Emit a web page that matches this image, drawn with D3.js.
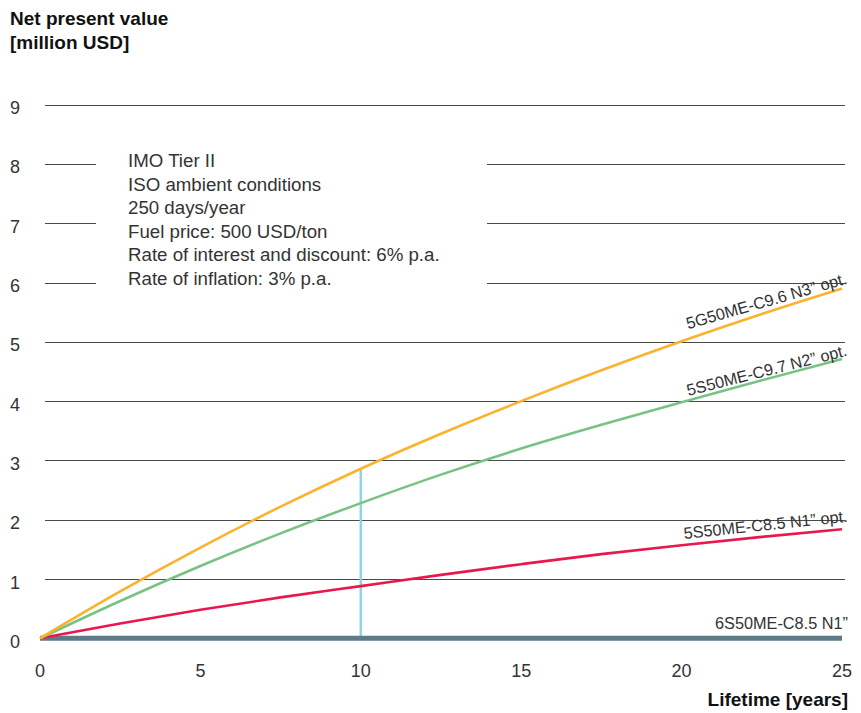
<!DOCTYPE html>
<html>
<head>
<meta charset="utf-8">
<script src="https://cdn.jsdelivr.net/npm/d3@7/dist/d3.min.js"></script>
<style>
  html, body { margin: 0; padding: 0; background: #fff; }
  svg { display: block; font-family: "Liberation Sans", Arial, Helvetica, sans-serif; }
</style>
</head>
<body>
<svg id="chart" width="861" height="713"></svg>
<script>
// ---- data ----
const years = [0, 2.5, 5, 7.5, 10, 12.5, 15, 17.5, 20, 22.5, 25];
const npvN3opt = [0, 0.79, 1.53, 2.22, 2.86, 3.45, 4.00, 4.52, 5.01, 5.47, 5.90];
const npvN2opt = [0, 0.63, 1.22, 1.77, 2.28, 2.76, 3.20, 3.60, 3.98, 4.35, 4.71];
const npvN1opt = [0, 0.25, 0.48, 0.69, 0.88, 1.07, 1.25, 1.42, 1.57, 1.71, 1.84];
const npvBase  = [0, 0, 0, 0, 0, 0, 0, 0, 0, 0, 0];
const seriesNames = ["5G50ME-C9.6 N3\u201D opt.", "5S50ME-C9.7 N2\u201D opt.", "5S50ME-C8.5 N1\u201D opt.", "6S50ME-C8.5 N1\u201D"];
const xTicks = [0, 5, 10, 15, 20, 25];
const yTicks = [0, 1, 2, 3, 4, 5, 6, 7, 8, 9];
const markerYear = 10;
const noteLines = ["IMO Tier II", "ISO ambient conditions", "250 days/year", "Fuel price: 500 USD/ton", "Rate of interest and discount: 6% p.a.", "Rate of inflation: 3% p.a."];
const yTitle = ["Net present value", "[million USD]"];
const xTitle = "Lifetime [years]";

// ---- scales ----
const svg = d3.select("#chart");
const x = d3.scaleLinear().domain([0, 25]).range([40, 842]);
const y = d3.scaleLinear().domain([0, 9]).range([638.3, 104.6]);
const txt = "#333";

// gridlines (broken for note box on 6,7,8)
const gridL = 45, gridR = 845;
yTicks.filter(v => v > 0).forEach(v => {
  const segs = (v >= 6 && v <= 8) ? [[gridL, 96], [487, gridR]] : [[gridL, gridR]];
  segs.forEach(s => {
    svg.append("line")
      .attr("x1", s[0]).attr("x2", s[1])
      .attr("y1", Math.round(y(v)) + 0.5).attr("y2", Math.round(y(v)) + 0.5)
      .attr("stroke", "#4a4a4a").attr("stroke-width", 1);
  });
});

// y tick labels
svg.append("g").selectAll("text").data(yTicks).join("text")
  .attr("x", 15).attr("y", d => y(d) + 9.5)
  .attr("text-anchor", "middle").attr("font-size", 18).attr("fill", txt)
  .text(d => d);

// x tick labels
svg.append("g").selectAll("text").data(xTicks).join("text")
  .attr("x", d => x(d)).attr("y", 677)
  .attr("text-anchor", "middle").attr("font-size", 18).attr("fill", txt)
  .text(d => d);

// titles
svg.append("text").attr("x", 10).attr("y", 25).attr("font-size", 19).attr("font-weight", "bold").attr("fill", "#111").text(yTitle[0]);
svg.append("text").attr("x", 10).attr("y", 48.5).attr("font-size", 19).attr("font-weight", "bold").attr("fill", "#111").text(yTitle[1]);
svg.append("text").attr("x", 848).attr("y", 706).attr("text-anchor", "end").attr("font-size", 19).attr("font-weight", "bold").attr("fill", "#111").text(xTitle);

// note
svg.append("g").selectAll("text").data(noteLines).join("text")
  .attr("x", 128).attr("y", (d, i) => 167 + i * 23.6)
  .attr("font-size", 18.7).attr("fill", txt)
  .text(d => d);

// marker vertical line at 10 years
svg.append("line")
  .attr("x1", x(markerYear)).attr("x2", x(markerYear))
  .attr("y1", y(0)).attr("y2", y(npvN3opt[years.indexOf(markerYear)]))
  .attr("stroke", "#8fd4e2").attr("stroke-width", 2.5);

// lines
const line = d3.line().x(d => x(d[0])).y(d => y(d[1])).curve(d3.curveMonotoneX);
const series = [
  { vals: npvBase, color: "#5e7a86", w: 5 },
  { vals: npvN1opt, color: "#e8184f", w: 2.6 },
  { vals: npvN2opt, color: "#78c383", w: 2.6 },
  { vals: npvN3opt, color: "#fbb22c", w: 2.6 }
];
series.forEach(s => {
  svg.append("path")
    .datum(years.map((yr, i) => [yr, s.vals[i]]))
    .attr("d", line)
    .attr("fill", "none").attr("stroke", s.color).attr("stroke-width", s.w)
    .attr("stroke-linecap", "butt");
});

// labels along curves
const labelDefs = [
  { name: seriesNames[0], vals: npvN3opt, angle: -16, dy: -5 },
  { name: seriesNames[1], vals: npvN2opt, angle: -14.2, dy: -3.5 },
  { name: seriesNames[2], vals: npvN1opt, angle: -6, dy: -7.5 },
  { name: seriesNames[3], vals: npvBase, angle: 0, dy: -9 }
];
labelDefs.forEach(l => {
  const ex = x(25) + 6, ey = y(l.vals[l.vals.length - 1]) + l.dy;
  svg.append("text")
    .attr("transform", `translate(${ex},${ey}) rotate(${l.angle})`)
    .attr("text-anchor", "end").attr("font-size", 16.3).attr("fill", txt)
    .text(l.name);
});
</script>
</body>
</html>
